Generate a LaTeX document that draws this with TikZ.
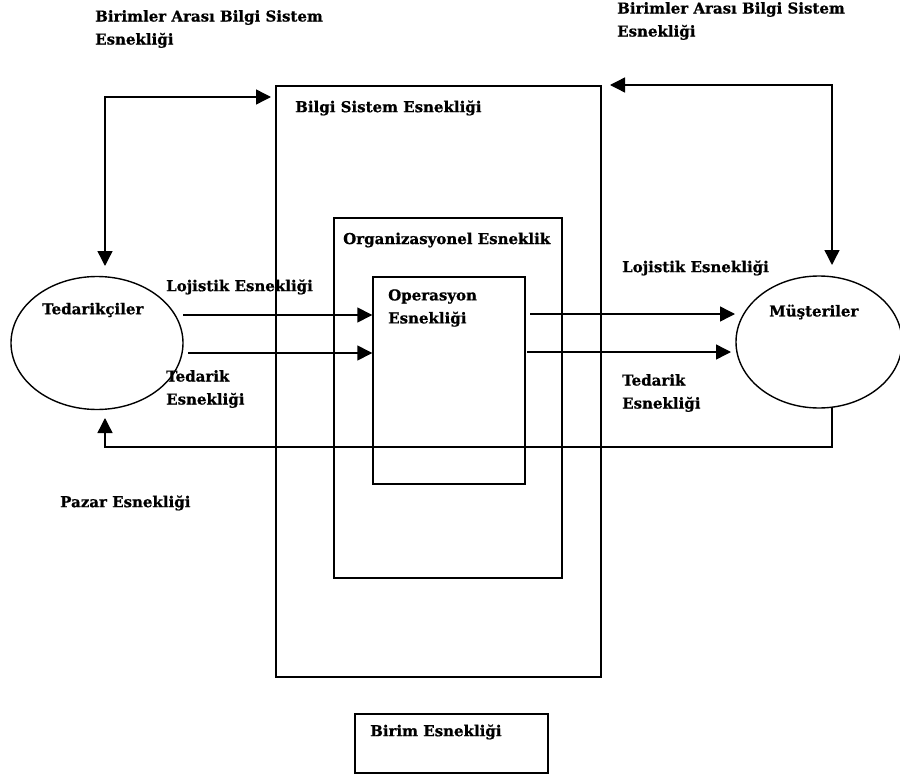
\documentclass[tikz,border=0pt]{standalone}
\usepackage{fontspec}
\setmainfont{DejaVu Serif}[BoldFeatures={FakeBold=0.8}]
\usetikzlibrary{shapes.geometric,arrows.meta}
\begin{document}
\begin{tikzpicture}[x=1pt,y=-1pt,
  frame/.style={draw, line width=1.4pt, inner sep=0pt},
  lbl/.style={anchor=west, inner sep=0pt, font=\bfseries\fontsize{15}{23}\selectfont, align=left},
  conn/.style={line width=1.4pt, -{Triangle[length=15pt,width=15pt]}},
  dbl/.style={line width=1.4pt, {Triangle[length=15pt,width=15pt]}-{Triangle[length=15pt,width=15pt]}}]
\useasboundingbox (0,0) rectangle (900,776);

% nested flexibility boxes
\node[frame, minimum width=325pt, minimum height=591pt] (bss) at (438.5,381.5) {};
\node[frame, minimum width=228pt, minimum height=360pt] (org) at (448,398) {};
\node[frame, minimum width=152pt, minimum height=207pt] (ops) at (449,380.5) {};
\node[frame, minimum width=193pt, minimum height=59pt] (birim) at (451.5,743.5) {};

% suppliers and customers
\node[frame, ellipse, minimum width=172pt, minimum height=133pt] (ted) at (97,343) {};
\node[frame, ellipse, minimum width=166pt, minimum height=132pt] (mus) at (819,342) {};

% labels
\node[lbl] (t1) at (95,29) {Birimler Arası Bilgi Sistem\\Esnekliği};
\node[lbl] (t2) at (617,21) {Birimler Arası Bilgi Sistem\\Esnekliği};
\node[lbl] (t3) at (295,108) {Bilgi Sistem Esnekliği};
\node[lbl] (t4) at (343,240) {Organizasyonel Esneklik};
\node[lbl] (t5) at (388,308) {Operasyon\\Esnekliği};
\node[lbl] (t6) at (166,287) {Lojistik Esnekliği};
\node[lbl] (t7) at (622,268) {Lojistik Esnekliği};
\node[lbl] (t8) at (42,310) {Tedarikçiler};
\node[lbl] (t9) at (769,312) {Müşteriler};
\node[lbl] (t10) at (166,389) {Tedarik\\Esnekliği};
\node[lbl] (t11) at (622,393) {Tedarik\\Esnekliği};
\node[lbl] (t12) at (60,503) {Pazar Esnekliği};
\node[lbl] (t13) at (370,732) {Birim Esnekliği};

% connector end points
\coordinate (tlA) at (105,266);
\coordinate (tlB) at (271,97);
\coordinate (trA) at (610,85);
\coordinate (trB) at (832,265);
\coordinate (l1) at (183,315);
\coordinate (l2) at (188,353);
\coordinate (r1) at (530,314);
\coordinate (r2) at (527,352);
\coordinate (bk) at (832,408);
\coordinate (bkEnd) at (105,418);

% inter-unit information system links
\draw[dbl] (tlA) |- (tlB);
\draw[dbl] (trA) -| (trB);

% logistics and supply flows
\draw[conn] (l1) -- (l1 -| ops.west);
\draw[conn] (l2) -- (l2 -| ops.west);
\draw[conn] (r1) -- (735,314);
\draw[conn] (r2) -- (731,352);

% market feedback
\draw[conn] (bk) |- (105,447) -- (bkEnd);
\end{tikzpicture}
\end{document}
